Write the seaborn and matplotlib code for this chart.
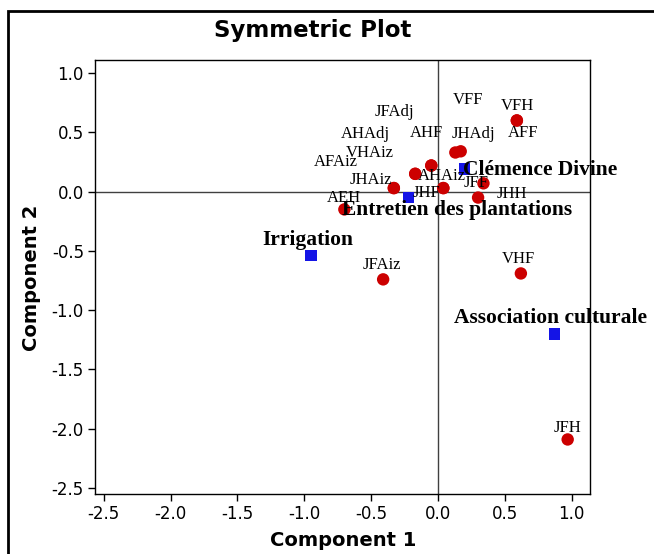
import numpy as np
import pandas as pd
import matplotlib
matplotlib.use('Agg')
import matplotlib.pyplot as plt
import seaborn as sns
from matplotlib.patches import Rectangle

# ---- DATA (row points, red circles) ----
row_labels = ['VFH', 'AFF', 'VFF', 'JHAdj', 'AHF', 'JFAdj', 'AHAdj', 'VHAiz', 'AFAiz',
              'JHAiz', 'AHAiz', 'JHF', 'JFF', 'JHH', 'AEH', 'VHF', 'JFH', 'JFAiz']
row_x = [0.59, 0.59, 0.13, 0.17, -0.05, -0.05, -0.17, -0.17, -0.33,
         -0.33, 0.04, 0.04, 0.34, 0.30, -0.70, 0.62, 0.97, -0.41]
row_y = [0.60, 0.60, 0.33, 0.34, 0.22, 0.22, 0.15, 0.15, 0.03,
         0.03, 0.03, 0.03, 0.07, -0.05, -0.15, -0.69, -2.09, -0.74]

# ---- DATA (column points, blue squares) ----
col_labels = ['Clémence Divine', 'Entretien des plantations', 'Irrigation', 'Association culturale']
col_x = [0.20, -0.22, -0.95, 0.87]
col_y = [0.19, -0.05, -0.54, -1.20]

x_ticks = [-2.5, -2.0, -1.5, -1.0, -0.5, 0.0, 0.5, 1.0]
y_ticks = [1.0, 0.5, 0.0, -0.5, -1.0, -1.5, -2.0, -2.5]

# label offsets in pixels (dx, dy) - where Minitab put the text
row_offsets = [(1, 14), (6, -13), (13, 52), (13, 17), (-5, 33), (-37, 54), (-50, 40),
               (-45, 21), (-58, 26), (-23, 8), (-1, 12), (-17, -5), (-7, 0), (34, 4),
               (0, 11), (-2, 14), (0, 11), (-1, 14)]
col_offsets = [(-2, -1), (49, -12), (-3, 16), (-4, 16)]
col_ha = ['left', 'center', 'center', 'center']

rows = pd.DataFrame({'label': row_labels, 'x': row_x, 'y': row_y})
cols = pd.DataFrame({'label': col_labels, 'x': col_x, 'y': col_y})

sns.set_style('ticks')
plt.rcParams['font.family'] = ['DejaVu Sans']
plt.rcParams['axes.unicode_minus'] = False
plt.rcParams['text.color'] = 'black'
plt.rcParams['axes.labelcolor'] = 'black'
plt.rcParams['xtick.color'] = 'black'
plt.rcParams['ytick.color'] = 'black'

fig = plt.figure(figsize=(6.54, 5.54), dpi=100)
ax = fig.add_axes([95 / 654, 1 - 494 / 554, 495 / 654, 434 / 554])

ax.axhline(0, color='#404040', lw=1, zorder=1)
ax.axvline(0, color='#404040', lw=1, zorder=1)

sns.scatterplot(data=rows, x='x', y='y', ax=ax, color='#CC0000', s=80,
                marker='o', edgecolor='none', zorder=3)
sns.scatterplot(data=cols, x='x', y='y', ax=ax, color='#1414E6', s=65,
                marker='s', edgecolor='none', zorder=3)

for (lab, x, y), (dx, dy) in zip(rows[['label', 'x', 'y']].values, row_offsets):
    ax.annotate(lab, (x, y), xytext=(dx, dy), textcoords='offset pixels',
                ha='center', va='center', fontsize=12,
                family='Liberation Serif', zorder=4)

for (lab, x, y), (dx, dy), ha in zip(cols[['label', 'x', 'y']].values, col_offsets, col_ha):
    ax.annotate(lab, (x, y), xytext=(dx, dy), textcoords='offset pixels',
                ha=ha, va='center', fontsize=15.5, fontweight='bold',
                family='Liberation Serif', zorder=4, annotation_clip=False)

ax.set_xlim(-2.565, 1.137)
ax.set_ylim(-2.55, 1.11)
ax.set_xticks(x_ticks)
ax.set_yticks(y_ticks)
ax.set_xticklabels([f'{v:.1f}' for v in x_ticks], fontsize=12)
ax.set_yticklabels([f'{v:.1f}' for v in y_ticks], fontsize=12)
ax.tick_params(direction='out', length=5, width=1, pad=3, top=False, right=False)
for sp in ax.spines.values():
    sp.set_visible(True)
    sp.set_color('black')
    sp.set_linewidth(1)

ax.set_xlabel('Component 1', fontsize=14, fontweight='bold')
ax.set_ylabel('Component 2', fontsize=14, fontweight='bold')
ax.xaxis.set_label_coords(0.501, -0.085)
ax.yaxis.set_label_coords(-0.11, 0.498)

fig.text(313 / 654, 1 - 30 / 554, 'Symmetric Plot', ha='center', va='center',
         fontsize=16.5, fontweight='bold')

# outer frame (runs off the right and bottom edges like the original)
fig.patches.append(Rectangle((8, -20), 700, 554 - 11 + 20, transform=None,
                             fill=False, edgecolor='black', lw=2))

fig.savefig('out.png', dpi=100)
